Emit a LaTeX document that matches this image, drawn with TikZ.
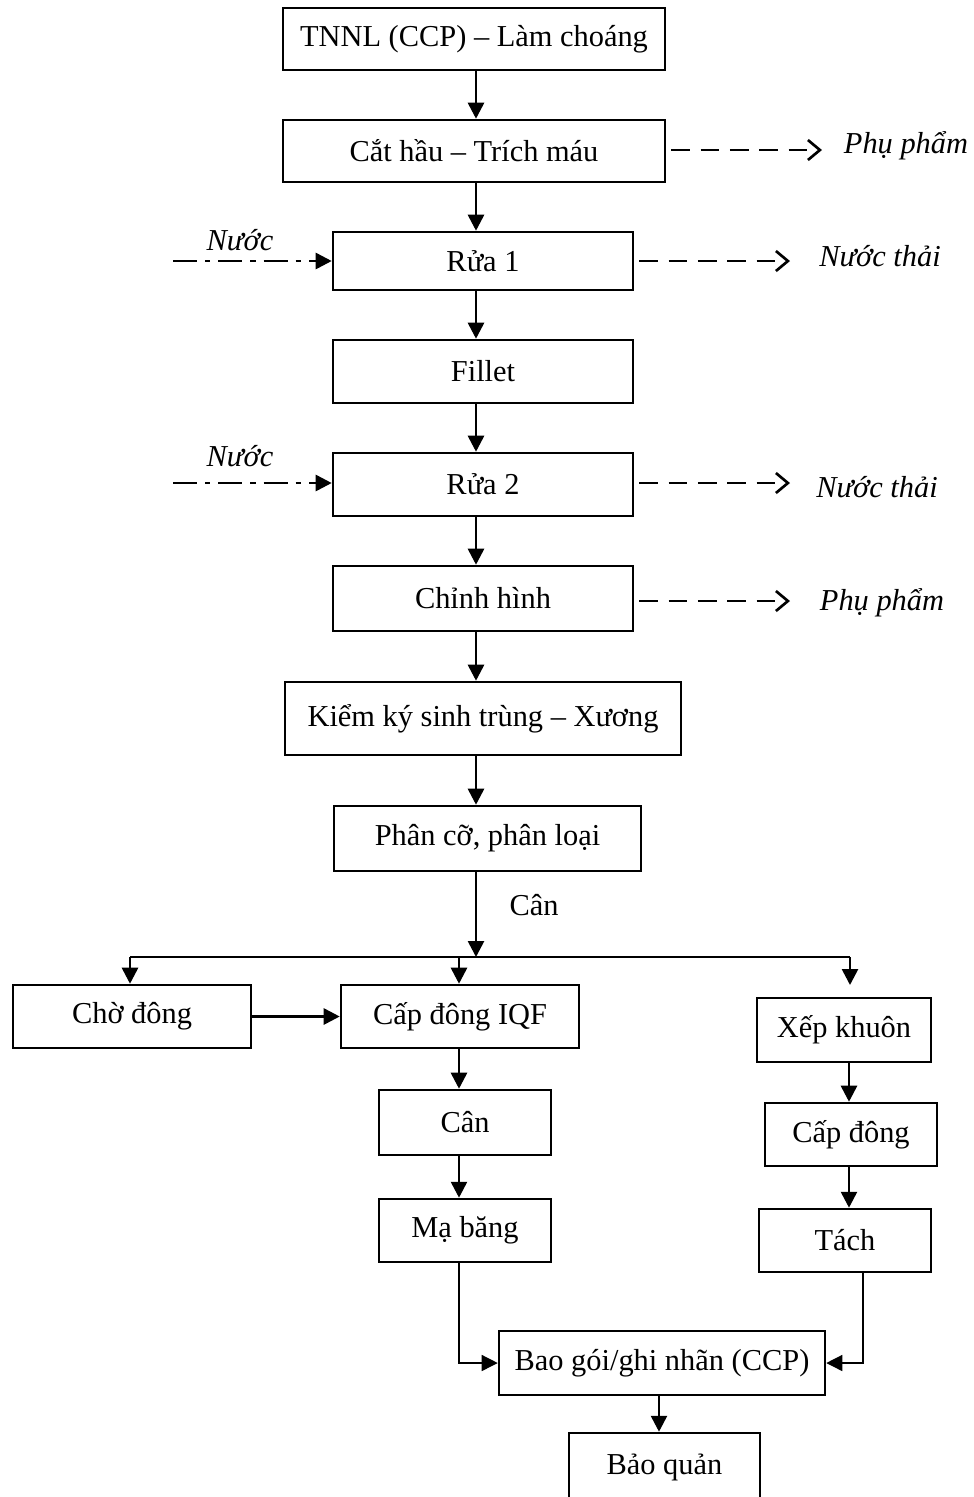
\documentclass[tikz,border=0pt]{standalone}
\usepackage{fontspec}
\setmainfont{Liberation Serif}
\usetikzlibrary{arrows.meta,calc}
\begin{document}
\begin{tikzpicture}[x=0.75pt,y=-0.75pt,
  box/.style 2 args={draw, line width=1.9pt, minimum width=#1*0.75pt, minimum height=#2*0.75pt, inner sep=0pt, font=\fontsize{22.8}{27}\selectfont},
  side/.style={font=\fontsize{22.8}{27}\selectfont\itshape, inner sep=0pt},
  lbl/.style={font=\fontsize{22.8}{27}\selectfont, inner sep=0pt},
  arr/.style={line width=2pt, -{Triangle[length=12pt,width=12pt]}},
  thinarr/.style={line width=1pt, -{Triangle[length=12pt,width=12pt]}},
  dasharr/.style={line width=2pt, dash pattern=on 14pt off 8pt, -{Straight Barb[length=9pt,width=15pt,line width=2pt]}},
  dotarr/.style={line width=2pt, dash pattern=on 18pt off 6pt on 4pt off 6pt, -{Triangle[length=12pt,width=12pt]}}
]
\useasboundingbox (0,0) rectangle (974,1497);

\node[box={382}{62}] (a) at (474,39) {TNNL (CCP) -- Làm choáng};
\node[box={382}{62}] (b) at (474,151) {Cắt hầu -- Trích máu};
\node[box={300}{58}] (c) at (483,261) {Rửa 1};
\node[box={300}{63}] (d) at (483,371.5) {Fillet};
\node[box={300}{63}] (e) at (483,484.5) {Rửa 2};
\node[box={300}{65}] (f) at (483,598.5) {Chỉnh hình};
\node[box={396}{73}] (g) at (483,718.5) {Kiểm ký sinh trùng -- Xương};
\node[box={307}{65}] (h) at (487.5,838.5) {Phân cỡ, phân loại};
\node[box={238}{63}] (i) at (132,1016.5) {Chờ đông};
\node[box={238}{63}] (j) at (460,1016.5) {Cấp đông IQF};
\node[box={174}{64}] (k) at (844,1030) {Xếp khuôn};
\node[box={172}{65}] (l) at (465,1122.5) {Cân};
\node[box={172}{63}] (m) at (465,1230.5) {Mạ băng};
\node[box={172}{63}] (n) at (851,1134.5) {Cấp đông};
\node[box={172}{63}] (o) at (845,1240.5) {Tách};
\node[box={326}{64}] (p) at (662,1363) {Bao gói/ghi nhãn (CCP)};
\node[box={191}{68}] (q) at (664.5,1467) {Bảo quản};

% side labels
\node[side] (pp1) at (906,146) {Phụ phẩm};
\node[side] (nu1) at (240,240) {Nước};
\node[side] (nt1) at (880,256) {Nước thải};
\node[side] (nu2) at (240,456) {Nước};
\node[side] (nt2) at (877,487) {Nước thải};
\node[side] (pp2) at (882,603) {Phụ phẩm};
\node[lbl] (can) at (534,905) {Cân};

% main column
\coordinate (col) at (476,0);
\draw[arr] (col |- a.south) -- (col |- b.north);
\draw[arr] (col |- b.south) -- (col |- c.north);
\draw[arr] (col |- c.south) -- (col |- d.north);
\draw[arr] (col |- d.south) -- (col |- e.north);
\draw[arr] (col |- e.south) -- (col |- f.north);
\draw[arr] (col |- f.south) -- (col |- g.north);
\draw[arr] (col |- g.south) -- (col |- h.north);

% branch
\coordinate (br) at (476,957);
\coordinate (bl) at (130,957);
\coordinate (bm) at (459,957);
\coordinate (brr) at (850,957);
\coordinate (kend) at (850,985);
\draw[arr] (col |- h.south) -- (br);
\draw[line width=1pt] (bl) -- (brr);
\draw[arr] (bl) -- (bl |- i.north);
\draw[arr] (bm) -- (bm |- j.north);
\draw[arr] (brr) -- (kend);

\draw[arr] (i.east) -- (j.west);
\coordinate (lc) at (459,0);
\draw[arr] (lc |- j.south) -- (lc |- l.north);
\draw[arr] (lc |- l.south) -- (lc |- m.north);
\coordinate (rc) at (849,0);
\draw[arr] (rc |- k.south) -- (rc |- n.north);
\draw[arr] (rc |- n.south) -- (rc |- o.north);

\coordinate (mx) at (459,0);
\coordinate (ox) at (863,0);
\draw[thinarr] (mx |- m.south) |- (p.west);
\draw[thinarr] (ox |- o.south) |- (p.east);
\coordinate (pc) at (659,0);
\draw[arr] (pc |- p.south) -- (pc |- q.north);

% side arrows
\coordinate (e1) at (822,150);
\draw[dasharr] ($(b.east)+(5,-1)$) -- (e1);
\coordinate (w1) at (173,261);
\draw[dotarr] (w1) -- (c.west);
\coordinate (e2) at (790,261);
\draw[dasharr] ($(c.east)+(5,0)$) -- (e2);
\coordinate (w2) at (173,483);
\draw[dotarr] (w2) -- (w2 -| e.west);
\coordinate (e3) at (790,483);
\draw[dasharr] ($(e.east |- e3)+(5,0)$) -- (e3);
\coordinate (e4) at (790,601);
\draw[dasharr] ($(f.east |- e4)+(5,0)$) -- (e4);
\end{tikzpicture}
\end{document}
